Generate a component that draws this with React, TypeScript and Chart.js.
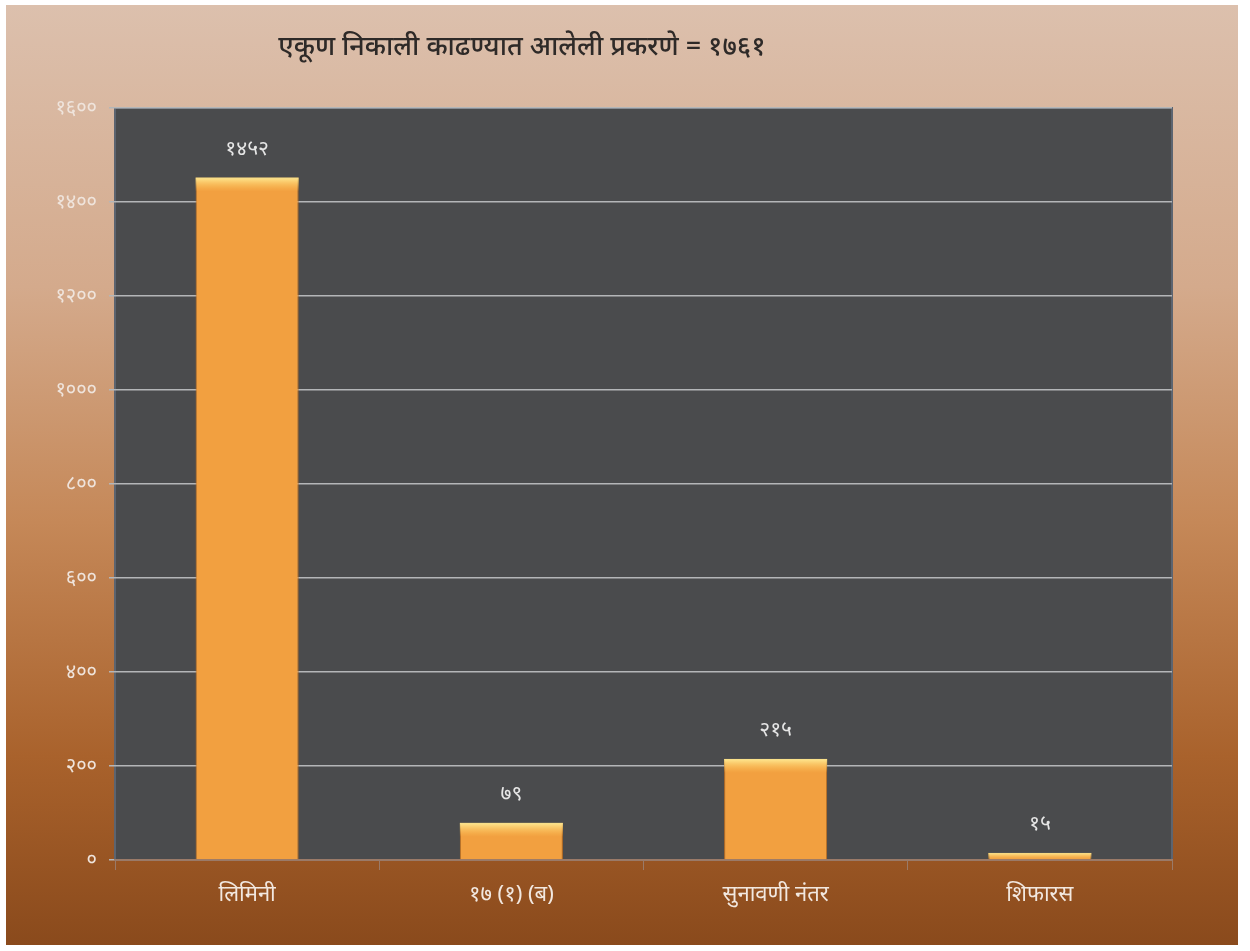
import React, { useEffect, useRef } from "react";
import { Chart, registerables } from "chart.js";

Chart.register(...registerables);

const titleText = "एकूण निकाली काढण्यात आलेली प्रकरणे = १७६१";
const categories = ["लिमिनी", "१७ (१) (ब)", "सुनावणी नंतर", "शिफारस"];
const values = [1452, 79, 215, 15];
const yTicks = [0, 200, 400, 600, 800, 1000, 1200, 1400, 1600];

const devDigits = ["०", "१", "२", "३", "४", "५", "६", "७", "८", "९"];
const toDev = (n: number) => String(n).replace(/[0-9]/g, (d) => devDigits[Number(d)]);

const FONT = "'Noto Sans', 'Lohit Devanagari', 'Mukta', sans-serif";

const bgPlugin = {
  id: "bgPlugin",
  beforeDraw(chart: any) {
    const { ctx, width, height, chartArea } = chart;
    ctx.save();
    ctx.fillStyle = "#ffffff";
    ctx.fillRect(0, 0, width, height);
    const g = ctx.createLinearGradient(0, 5, 0, 945);
    g.addColorStop(0, "#dcc0ad");
    g.addColorStop(0.3, "#d4aa8c");
    g.addColorStop(0.55, "#c58858");
    g.addColorStop(0.8, "#a9622c");
    g.addColorStop(1, "#8a4a1c");
    ctx.fillStyle = g;
    ctx.fillRect(6, 5, 1232, 940);
    // plot area
    ctx.fillStyle = "#4a4b4d";
    ctx.fillRect(chartArea.left, chartArea.top, chartArea.right - chartArea.left, chartArea.bottom - chartArea.top);
    ctx.strokeStyle = "#5c6470";
    ctx.lineWidth = 2;
    ctx.strokeRect(chartArea.left, chartArea.top, chartArea.right - chartArea.left, chartArea.bottom - chartArea.top);
    // title
    ctx.fillStyle = "#2e2a28";
    ctx.font = `500 27px ${FONT}`;
    ctx.textAlign = "center";
    ctx.textBaseline = "middle";
    ctx.fillText(titleText, chartArea.left + (chartArea.right - chartArea.left) * 0.385, 47);
    ctx.restore();
  },
};

const barDecor = {
  id: "barDecor",
  afterDatasetsDraw(chart: any) {
    const { ctx } = chart;
    const meta = chart.getDatasetMeta(0);
    ctx.save();
    meta.data.forEach((bar: any, i: number) => {
      const half = bar.width / 2;
      const h = Math.min(14, bar.base - bar.y);
      const g = ctx.createLinearGradient(0, bar.y, 0, bar.y + h);
      g.addColorStop(0, "rgba(255,236,150,0.95)");
      g.addColorStop(1, "rgba(255,200,90,0)");
      ctx.fillStyle = g;
      ctx.fillRect(bar.x - half, bar.y, bar.width, h);
      ctx.fillStyle = "#e6e6e6";
      ctx.font = `21px ${FONT}`;
      ctx.textAlign = "center";
      ctx.textBaseline = "middle";
      ctx.fillText(toDev(values[i]), bar.x, bar.y - 29);
    });
    ctx.restore();
  },
};

export default function App() {
  const ref = useRef<HTMLCanvasElement | null>(null);
  useEffect(() => {
    if (!ref.current) return;
    const chart = new Chart(ref.current, {
      type: "bar",
      data: {
        labels: categories,
        datasets: [
          {
            data: values,
            backgroundColor: "#f2a040",
            borderColor: "#c07020",
            borderWidth: 1,
            barPercentage: 0.39,
            categoryPercentage: 1,
          },
        ],
      },
      options: {
        responsive: false,
        animation: false,
        events: [],
        layout: { padding: { left: 0, top: 108, right: 78, bottom: 0 } },
        plugins: { legend: { display: false }, title: { display: false }, tooltip: { enabled: false } },
        scales: {
          x: {
            offset: true,
            grid: { display: true, drawOnChartArea: false, color: "#9a7a68", tickLength: 10, offset: true },
            border: { display: true, color: "#9a7a68", width: 2 },
            ticks: { color: "#f2e8e0", font: { size: 22, family: FONT }, padding: 12 },
            afterFit(scale: any) {
              scale.height = 91;
            },
          },
          y: {
            min: 0,
            max: 1600,
            afterBuildTicks(scale: any) {
              scale.ticks = yTicks.map((v) => ({ value: v }));
            },
            grid: { color: "#b4b6b8", lineWidth: 1.5, tickLength: 6, drawTicks: true },
            border: { display: false },
            ticks: {
              color: "#efe4dc",
              font: { size: 20, family: FONT },
              padding: 12,
              callback: (v: any) => toDev(Number(v)),
            },
            afterFit(scale: any) {
              scale.width = 115;
            },
          },
        },
      },
      plugins: [bgPlugin, barDecor],
    });
    return () => chart.destroy();
  }, []);
  return (
    <div style={{ position: "fixed", left: 0, top: 0, width: 1250, height: 951 }}>
      <canvas ref={ref} width={1250} height={951} style={{ display: "block" }} />
    </div>
  );
}
